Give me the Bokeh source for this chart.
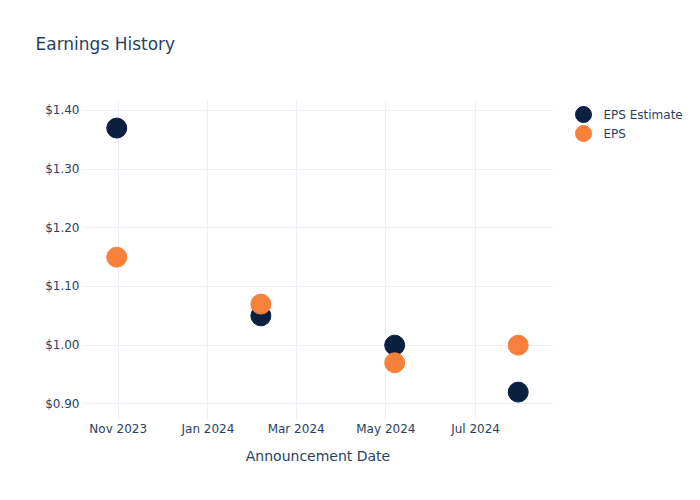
from datetime import datetime
import pandas as pd
from bokeh.plotting import figure
from bokeh.layouts import row
from bokeh.models import (Range1d, ColumnDataSource, DatetimeTickFormatter, MonthsTicker,
                          NumeralTickFormatter, FixedTicker, Title)
from bokeh.core.properties import value
from bokeh.embed import file_html
from bokeh.resources import INLINE

dates = ["2023-10-31", "2024-02-06", "2024-05-07", "2024-07-30"]
eps_estimate = [1.37, 1.05, 1.00, 0.92]
eps_actual = [1.15, 1.07, 0.97, 1.00]
y_ticks = [0.90, 1.00, 1.10, 1.20, 1.30, 1.40]
series_names = ["EPS Estimate", "EPS"]

TEXT = "#2a3f5f"
GRID = "#ebf0f8"
NAVY = "#0b1f41"
ORANGE = "#f7813a"
FONT = "DejaVu Sans"

src = ColumnDataSource(dict(date=pd.to_datetime(dates), est=eps_estimate, eps=eps_actual))

p = figure(width=573, height=500, output_backend="svg", toolbar_location=None,
           x_axis_type="datetime",
           x_range=Range1d(datetime(2023, 10, 7, 17), datetime(2024, 8, 23)),
           y_range=Range1d(0.8716, 1.417),
           min_border_left=82, min_border_right=20, min_border_top=100, min_border_bottom=80)
p.outline_line_color = None
p.background_fill_color = "white"
p.border_fill_color = "white"

# spacer panel between the frame and the title
p.add_layout(Title(text=" ", text_font_size="1px", standoff=44), "above")

p.title.text = "Earnings History"
p.title.text_font = FONT
p.title.text_font_size = "17px"
p.title.text_font_style = "normal"
p.title.text_color = TEXT
p.title.align = "left"
p.title.vertical_align = "bottom"
p.title.offset = -47
p.title.standoff = 0

p.scatter("date", "est", source=src, size=20, color=NAVY)
p.scatter("date", "eps", source=src, size=20, color=ORANGE)

xa = p.xaxis[0]
xa.ticker = MonthsTicker(months=[0, 2, 4, 6, 8, 10])
xa.formatter = DatetimeTickFormatter(months="%b %Y", days="%b %Y", years="%Y")
xa.axis_label = "Announcement Date"
ya = p.yaxis[0]
ya.ticker = FixedTicker(ticks=y_ticks)
ya.formatter = NumeralTickFormatter(format="$0.00")

for ax in (xa, ya):
    ax.axis_line_color = None
    ax.major_tick_line_color = None
    ax.minor_tick_line_color = None
    ax.major_tick_out = 0
    ax.major_tick_in = 0
    ax.minor_tick_out = 0
    ax.major_label_text_font = FONT
    ax.major_label_text_font_size = "12px"
    ax.major_label_text_color = TEXT
    ax.axis_label_text_font = FONT
    ax.axis_label_text_font_size = "14px"
    ax.axis_label_text_font_style = "normal"
    ax.axis_label_text_color = TEXT
xa.major_label_standoff = 1
xa.axis_label_standoff = 9
ya.major_label_standoff = 3

p.xgrid.ticker = xa.ticker
p.ygrid.ticker = ya.ticker
p.grid.grid_line_color = GRID
p.grid.grid_line_width = 1

# legend panel: its frame is aligned with the main frame (y 100..420 on the page)
leg = figure(width=127, height=500, output_backend="svg", toolbar_location=None,
             x_range=Range1d(0, 127), y_range=Range1d(420, 100),
             min_border_left=0, min_border_right=0, min_border_top=100, min_border_bottom=80,
             outline_line_color=None, x_axis_location=None, y_axis_location=None)
leg.grid.visible = False
leg.border_fill_color = "white"
leg_src = ColumnDataSource(dict(name=series_names, color=[NAVY, ORANGE],
                                x=[10, 10], y=[114, 133], tx=[30, 30]))
leg.scatter("x", "y", source=leg_src, size=16, color="color")
leg.text("tx", "y", text="name", source=leg_src, text_font=value(FONT), text_font_size="12px",
         text_color=TEXT, text_baseline="middle", text_align="left")

layout = row(p, leg, spacing=0)
open("out.html", "w").write(file_html(layout, INLINE))
